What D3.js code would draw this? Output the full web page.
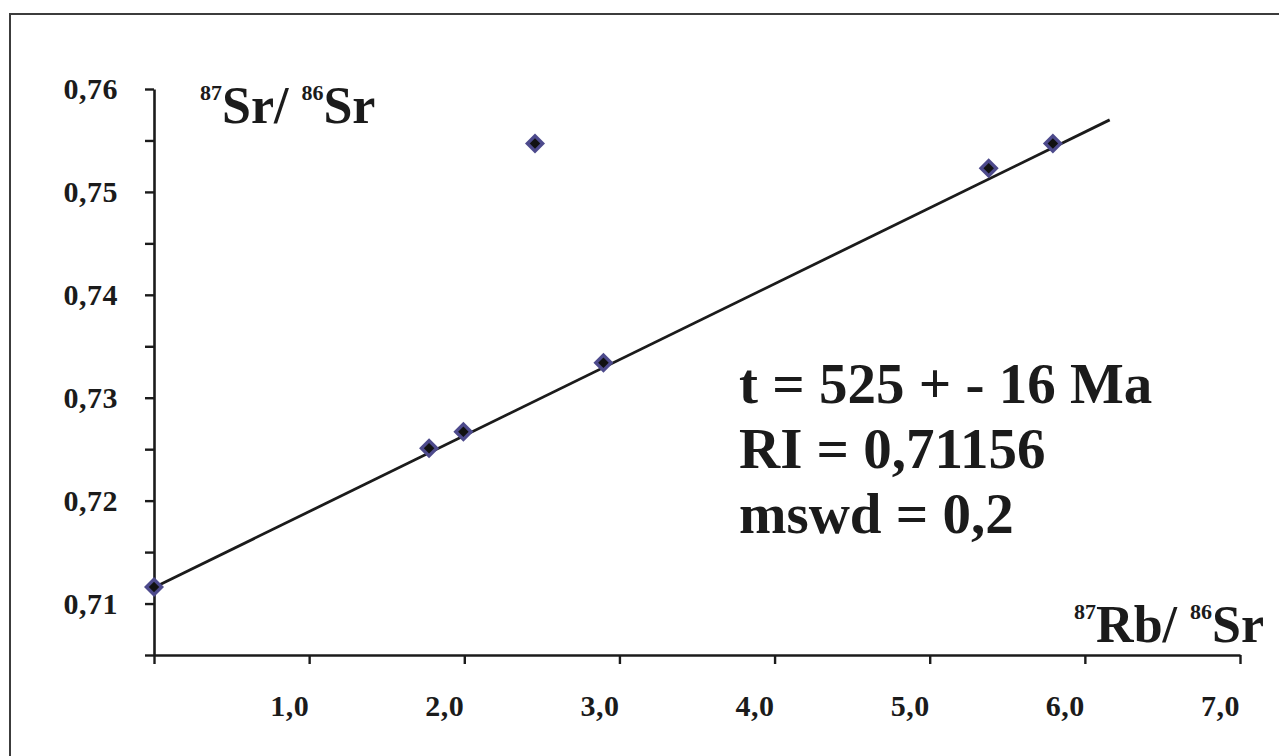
<!DOCTYPE html>
<html>
<head>
<meta charset="utf-8">
<script src="https://cdn.jsdelivr.net/npm/d3@7"></script>
<style>
  html, body { margin: 0; padding: 0; background: #fff; }
  svg { display: block; }
  text { font-family: "Liberation Serif", "DejaVu Serif", serif; font-weight: bold; fill: #1b1b1b; }
</style>
</head>
<body>
<svg id="chart" width="1279" height="756"></svg>
<script>
// Rb–Sr isochron: measured samples
const rbSr = [0.0, 1.773, 1.994, 2.456, 2.897, 5.38, 5.794];
const srSr = [0.7116, 0.7251, 0.7267, 0.7547, 0.7334, 0.7523, 0.7547];

// Fitted isochron line (intercept = initial ratio)
const fitX = [0.0, 6.16];
const fitY = [0.71156, 0.757];

// Axis ticks
const xTicks = [0, 1, 2, 3, 4, 5, 6, 7];
const xTickLabels = ["", "1,0", "2,0", "3,0", "4,0", "5,0", "6,0", "7,0"];
const yTicks = [0.705, 0.71, 0.715, 0.72, 0.725, 0.73, 0.735, 0.74, 0.745, 0.75, 0.755, 0.76];
const yLabelTicks = [0.71, 0.72, 0.73, 0.74, 0.75, 0.76];
const yTickLabels = ["0,71", "0,72", "0,73", "0,74", "0,75", "0,76"];

// Result annotation
const resultLines = ["t = 525 + - 16 Ma", "RI = 0,71156", "mswd = 0,2"];

const svg = d3.select("#chart");
const ink = "#1b1b1b";

// outer frame
svg.append("rect")
  .attr("x", 10).attr("y", 14)
  .attr("width", 1320).attr("height", 800)
  .attr("fill", "none").attr("stroke", "#3c3c3c").attr("stroke-width", 2);

const x = d3.scaleLinear().domain([0, 7]).range([154, 1240]);
const y = d3.scaleLinear().domain([0.705, 0.76]).range([655, 89]);

// Y axis: ticks every 0.005, labels every 0.01
const yAxis = d3.axisLeft(y).tickValues(yTicks).tickSize(9).tickSizeOuter(0).tickFormat("");
const gy = svg.append("g").attr("transform", `translate(${x(0)},0)`).call(yAxis);
gy.select(".domain").attr("stroke", ink).attr("stroke-width", 2.6);
gy.selectAll(".tick line").attr("stroke", ink).attr("stroke-width", 2.4);

svg.append("g").selectAll("text")
  .data(yLabelTicks)
  .join("text")
  .attr("x", 118)
  .attr("y", d => y(d) + 10)
  .attr("text-anchor", "end")
  .attr("font-size", 30)
  .attr("letter-spacing", 0.5)
  .text((d, i) => yTickLabels[i]);

// X axis: unit ticks, labels end at their tick
const xAxis = d3.axisBottom(x).tickValues(xTicks).tickSize(9).tickSizeOuter(0).tickFormat("");
const gx = svg.append("g").attr("transform", `translate(0,${y(0.705)})`).call(xAxis);
gx.select(".domain").attr("stroke", ink).attr("stroke-width", 2.6);
gx.selectAll(".tick line").attr("stroke", ink).attr("stroke-width", 2.4);

svg.append("g").selectAll("text")
  .data(xTicks)
  .join("text")
  .attr("x", d => x(d))
  .attr("y", 716)
  .attr("text-anchor", "end")
  .attr("font-size", 30)
  .attr("letter-spacing", 0.5)
  .text((d, i) => xTickLabels[i]);

// isochron line
svg.append("path")
  .datum(fitX.map((v, i) => [v, fitY[i]]))
  .attr("d", d3.line().x(d => x(d[0])).y(d => y(d[1])))
  .attr("fill", "none")
  .attr("stroke", ink)
  .attr("stroke-width", 2.8);

// diamond markers (squares turned 45°): purple outer, black core
const pts = rbSr.map((v, i) => ({ x: v, y: srSr[i] }));
const outer = d3.symbol().type(d3.symbolSquare).size(200);
const inner = d3.symbol().type(d3.symbolSquare).size(55);
const mk = svg.append("g");
mk.selectAll("path.o")
  .data(pts).join("path").attr("class", "o")
  .attr("transform", d => `translate(${x(d.x)},${y(d.y)}) rotate(45)`)
  .attr("d", outer)
  .attr("fill", "#4d4a8c");
mk.selectAll("path.i")
  .data(pts).join("path").attr("class", "i")
  .attr("transform", d => `translate(${x(d.x)},${y(d.y)}) rotate(45)`)
  .attr("d", inner)
  .attr("fill", "#111");

// axis titles with superscript mass numbers
function isotopeTitle(tx, ty, anchor, parts) {
  const t = svg.append("text").attr("x", tx).attr("y", ty).attr("text-anchor", anchor);
  parts.forEach(p => {
    t.append("tspan")
      .attr("font-size", p.sup ? 22 : 52)
      .attr("dy", p.dy)
      .text(p.s);
  });
}
isotopeTitle(200, 100, "start", [
  { s: "87", sup: true, dy: 0 },
  { s: "Sr/ ", sup: false, dy: 23 },
  { s: "86", sup: true, dy: -23 },
  { s: "Sr", sup: false, dy: 23 }
]);
isotopeTitle(1264, 619, "end", [
  { s: "87", sup: true, dy: 0 },
  { s: "Rb/ ", sup: false, dy: 23 },
  { s: "86", sup: true, dy: -23 },
  { s: "Sr", sup: false, dy: 23 }
]);

// result block
svg.append("g").selectAll("text")
  .data(resultLines)
  .join("text")
  .attr("x", 739)
  .attr("y", (d, i) => 403 + i * 65)
  .attr("font-size", 57)
  .text(d => d);
</script>
</body>
</html>
